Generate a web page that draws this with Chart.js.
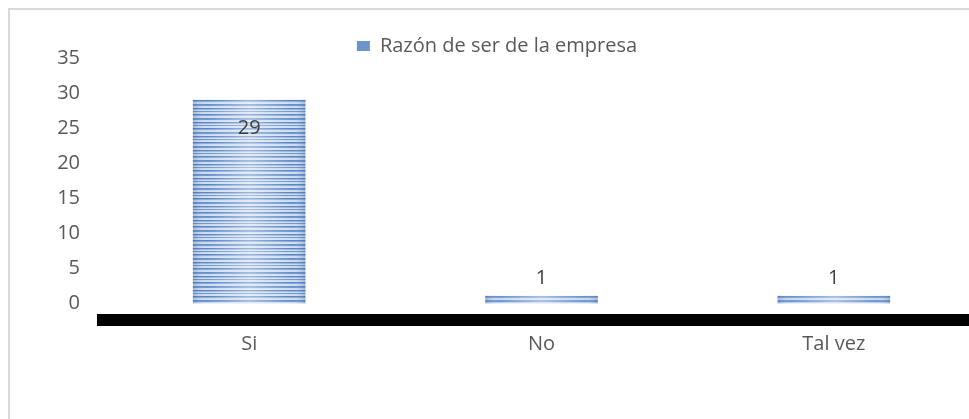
<!DOCTYPE html>
<html>
<head>
<meta charset="utf-8">
<script src="https://cdn.jsdelivr.net/npm/chart.js@4/dist/chart.umd.min.js"></script>
<style>
  html, body { margin: 0; padding: 0; background: #fff; overflow: hidden; }
  .page { position: fixed; left: 0; top: 0; width: 969px; height: 419px; overflow: hidden; }
  .frame { position: absolute; left: 8px; top: 8px; width: 980px; height: 440px; border-left: 2px solid #d9d9d9; border-top: 2px solid #d9d9d9; }
  canvas { display: block; }
</style>
</head>
<body>
<div class="page"><div class="frame"><canvas id="chart" width="980" height="440"></canvas></div></div>
<script>
// survey answers
const categories = ["Si", "No", "Tal vez"];
const respuestas = [29, 1, 1];
const seriesLabel = "Razón de ser de la empresa";
const yTickValues = [0, 5, 10, 15, 20, 25, 30, 35];

const BAR_W = 112;
const Y_MIN = -2.4; // leaves room under zero for the thick floor line
const FONT = { family: "'Open Sans', sans-serif", size: 20 };

// horizontal stripe tile used to fill the bars
function stripeTile(w) {
  const c = document.createElement("canvas");
  c.width = w;
  c.height = 14;
  const g = c.getContext("2d");
  g.fillStyle = "#d0ddf0";
  g.fillRect(0, 0, w, 14);
  const rows = [[0, "#4677bb"], [1, "#86a9d9"], [4, "#5284c5"], [5, "#6a95cf"], [8, "#4677bb"], [9, "#9cb8e0"], [11, "#5f8dcb"]];
  rows.forEach(([y, col]) => {
    g.fillStyle = col;
    g.fillRect(0, y, w, 1);
  });
  // lighter in the middle, a bit darker toward the edges
  const sheen = g.createLinearGradient(0, 0, w, 0);
  sheen.addColorStop(0, "rgba(70,110,170,0.3)");
  sheen.addColorStop(0.12, "rgba(255,255,255,0.05)");
  sheen.addColorStop(0.5, "rgba(255,255,255,0.45)");
  sheen.addColorStop(0.88, "rgba(255,255,255,0.05)");
  sheen.addColorStop(1, "rgba(70,110,170,0.3)");
  g.fillStyle = sheen;
  g.fillRect(0, 0, w, 14);
  return c;
}
const tile = stripeTile(BAR_W);

function barFill(ctx) {
  const chart = ctx.chart;
  const xScale = chart.scales.x;
  const yScale = chart.scales.y;
  if (!xScale || !yScale || ctx.dataIndex === undefined) return "#6b94cd";
  const pat = chart.ctx.createPattern(tile, "repeat");
  const left = xScale.getPixelForValue(ctx.dataIndex) - BAR_W / 2;
  const top = yScale.getPixelForValue(respuestas[ctx.dataIndex]);
  pat.setTransform(new DOMMatrix().translate(left, top));
  return pat;
}

// value labels: inside the top of tall bars, above short ones
const valueLabels = {
  id: "valueLabels",
  afterDatasetsDraw(chart) {
    const { ctx } = chart;
    const meta = chart.getDatasetMeta(0);
    ctx.save();
    ctx.font = `${FONT.size}px ${FONT.family}`;
    ctx.fillStyle = "#404040";
    ctx.textAlign = "center";
    ctx.textBaseline = "middle";
    meta.data.forEach((bar, i) => {
      const h = bar.base - bar.y;
      const y = h > 40 ? bar.y + 28 : bar.y - 18;
      ctx.fillText(String(respuestas[i]), bar.x, y);
    });
    ctx.restore();
  },
};

// pull the plot up under the legend
const legendHeight = {
  id: "legendHeight",
  beforeInit(chart) {
    const fit = chart.legend.fit;
    chart.legend.fit = function () {
      fit.call(this);
      this.height -= 8;
    };
  },
};

new Chart(document.getElementById("chart"), {
  type: "bar",
  data: {
    labels: categories,
    datasets: [
      {
        label: seriesLabel,
        data: respuestas,
        backgroundColor: barFill,
        borderWidth: 0,
        barThickness: BAR_W,
      },
    ],
  },
  options: {
    responsive: false,
    animation: false,
    layout: { padding: { left: 4, right: 10, top: 16, bottom: 82 } },
    plugins: {
      tooltip: { enabled: false },
      legend: {
        position: "top",
        labels: {
          boxWidth: 13,
          boxHeight: 10,
          padding: 10,
          color: "#595959",
          font: FONT,
          generateLabels(chart) {
            return Chart.defaults.plugins.legend.labels
              .generateLabels(chart)
              .map((l) => Object.assign(l, { fillStyle: "#6b94cd", strokeStyle: "#6b94cd", lineWidth: 0 }));
          },
        },
      },
    },
    scales: {
      x: {
        grid: { display: false, drawTicks: false },
        border: { display: true, color: "#000", width: 12 },
        ticks: { color: "#595959", font: FONT, padding: 12 },
      },
      y: {
        min: Y_MIN,
        max: 35,
        afterBuildTicks(scale) {
          scale.ticks = yTickValues.map((v) => ({ value: v }));
        },
        afterFit(scale) {
          scale.width = 89;
        },
        grid: { display: false, drawTicks: false },
        border: { display: false },
        ticks: { color: "#595959", font: FONT, padding: 23 },
      },
    },
  },
  plugins: [valueLabels, legendHeight],
});
</script>
</body>
</html>
